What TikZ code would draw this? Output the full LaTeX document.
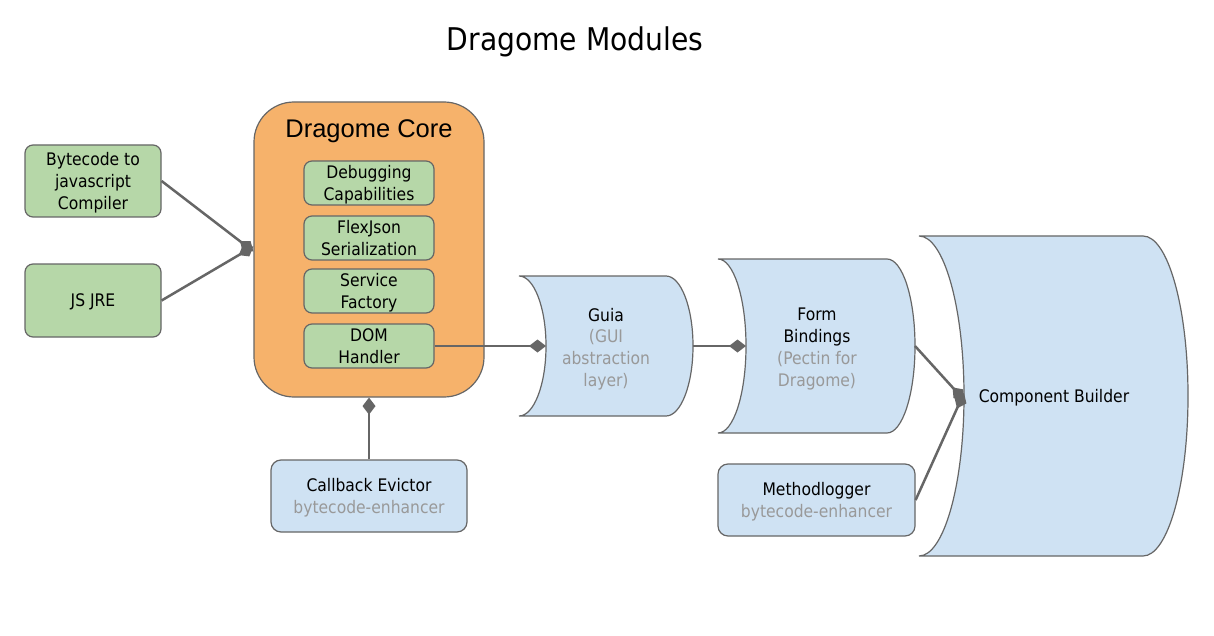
\documentclass[tikz,border=0pt]{standalone}
\usepackage{fontspec}
\setmainfont{DejaVu Sans Condensed}
\newfontfamily\arialf{Liberation Sans}
\usetikzlibrary{arrows.meta}
\definecolor{gfill}{HTML}{B6D7A8}
\definecolor{ofill}{HTML}{F6B26B}
\definecolor{bfill}{HTML}{CFE2F3}
\definecolor{edgec}{HTML}{666666}
\definecolor{subt}{HTML}{999999}
\tikzset{
  bodyfont/.style={font=\fontsize{17.3}{21.8}\selectfont},
  gbox/.style={draw=edgec, line width=1.2pt, fill=gfill, rounded corners=8pt, align=center, bodyfont, inner sep=0pt, text depth=-3pt},
  bbox/.style={draw=edgec, line width=1.2pt, fill=bfill, rounded corners=10pt, align=center, bodyfont, inner sep=0pt, text depth=-3pt},
  corebox/.style={draw=edgec, line width=1.2pt, fill=ofill, rounded corners=40pt, inner sep=0pt},
  cylstyle/.style={draw=edgec, line width=1.2pt, fill=bfill},
  cyltext/.style={align=center, bodyfont, inner sep=0pt},
  conn/.style={draw=edgec, line width=2.5pt, -{Diamond[length=17pt,width=13pt]}},
}
\newcommand\drawcyl[5]{%
  \pgfmathsetmacro\cylm{(#3+#4)/2}%
  \pgfmathsetmacro\cylk{0.552*(#4-#3)/2}%
  \draw[cylstyle] (#1,#3) -- (#2,#3)
    .. controls ({#2+0.552*#5},#3) and ({#2+#5},{\cylm-\cylk}) .. ({#2+#5},\cylm)
    .. controls ({#2+#5},{\cylm+\cylk}) and ({#2+0.552*#5},#4) .. (#2,#4)
    -- (#1,#4)
    .. controls ({#1+0.552*#5},#4) and ({#1+#5},{\cylm+\cylk}) .. ({#1+#5},\cylm)
    .. controls ({#1+#5},{\cylm-\cylk}) and ({#1+0.552*#5},#3) .. (#1,#3) -- cycle;
}
\begin{document}
\begin{tikzpicture}[x=1pt,y=-1pt]
\useasboundingbox[fill=white] (0,0) rectangle (1214,636);

\node[font=\fontsize{31.3}{36}\selectfont] (title) at (575,42) {Dragome Modules};

% left boxes
\node[gbox, minimum width=136pt, minimum height=72pt] (bc) at (93,181) {Bytecode to\\javascript\\Compiler};
\node[gbox, minimum width=136pt, minimum height=73pt] (jre) at (93,300.5) {JS JRE};

% core
\node[corebox, minimum width=230pt, minimum height=295pt] (core) at (369,249.5) {};
\node[font=\arialf\fontsize{25.5}{30}\selectfont] (coretitle) at (369,131) {Dragome Core};
\node[gbox, minimum width=130pt, minimum height=44pt] (dbg) at (369,183) {Debugging\\Capabilities};
\node[gbox, minimum width=130pt, minimum height=44pt] (flex) at (369,238) {FlexJson\\Serialization};
\node[gbox, minimum width=130pt, minimum height=44pt] (svc) at (369,291) {Service\\Factory};
\node[gbox, minimum width=130pt, minimum height=44pt] (dom) at (369,346) {DOM\\Handler};

% callback
\node[bbox, minimum width=196pt, minimum height=72pt] (cb) at (369,496) {Callback Evictor\\\textcolor{subt}{bytecode-enhancer}};

% cylinders
\drawcyl{519}{666}{276}{416}{27}
\coordinate (guiaIn) at (546,346);
\coordinate (guiaOut) at (693,346);
\node[cyltext] (guia) at (606,349) {Guia\\\textcolor{subt}{(GUI}\\\textcolor{subt}{abstraction}\\\textcolor{subt}{layer)}};

\drawcyl{718}{887}{259}{433}{28}
\coordinate (formIn) at (746,346);
\coordinate (formOut) at (915,346);
\node[cyltext] (form) at (817,349) {Form\\Bindings\\\textcolor{subt}{(Pectin for}\\\textcolor{subt}{Dragome)}};

\drawcyl{919}{1143}{236}{556}{45}
\coordinate (compIn) at (964,396);
\node[cyltext] (comp) at (1054,398) {Component Builder};

\node[bbox, minimum width=197pt, minimum height=72pt] (ml) at (816.5,500) {Methodlogger\\\textcolor{subt}{bytecode-enhancer}};

% connectors
\draw[conn] (bc.east) -- ([yshift=-2pt]core.west);
\draw[conn] (jre.east) -- ([yshift=3pt]core.west);
\draw[conn] (cb.north) -- (core.south);
\draw[conn] (dom.east) -- (guiaIn);
\draw[conn] (guiaOut) -- (formIn);
\draw[conn] (formOut) -- ([yshift=-4pt]compIn);
\draw[conn] (ml.east) -- ([yshift=3pt]compIn);
\end{tikzpicture}
\end{document}
